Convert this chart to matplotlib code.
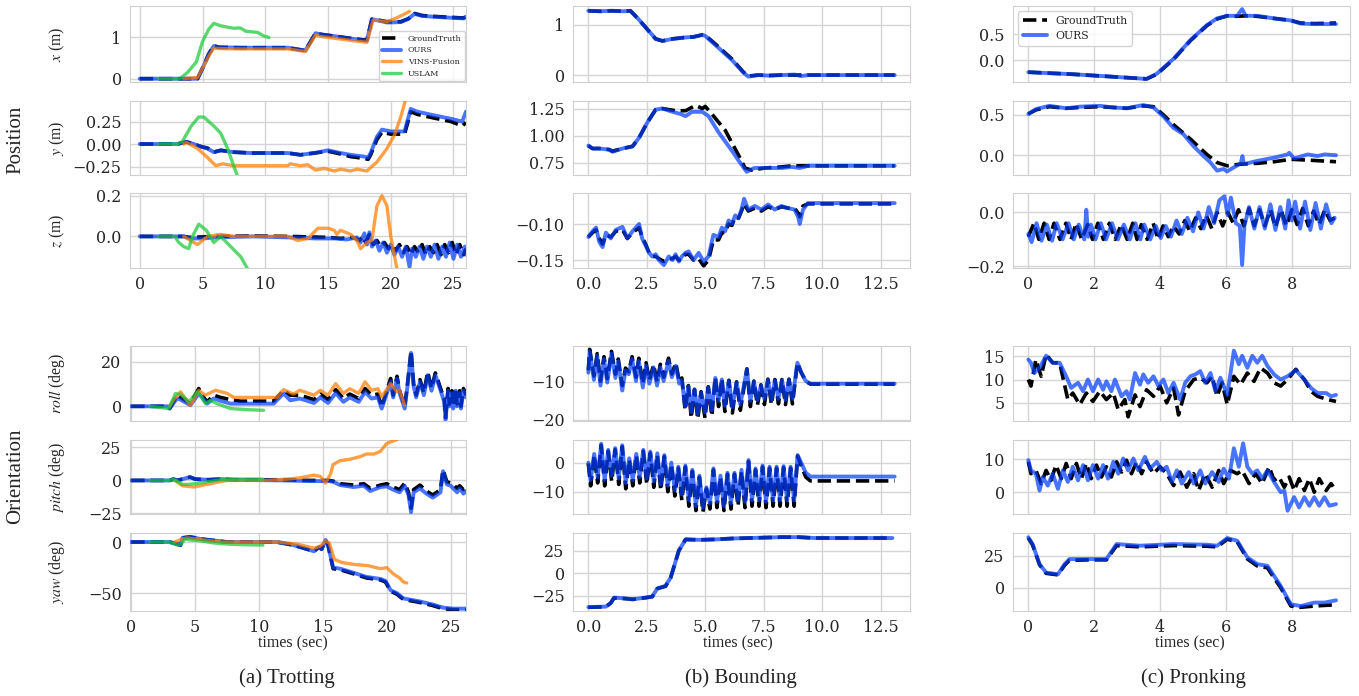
import matplotlib
matplotlib.use("Agg")
import matplotlib.pyplot as plt
import seaborn as sns

sns.set_style("whitegrid")
plt.rcParams["font.family"] = ["DejaVu Serif"]
plt.rcParams["mathtext.fontset"] = "stix"

W, H = 1359, 696

# ---------------- (a) Trotting ----------------
trot_x_gt = [(0, 0), (4.6, 0), (5.0, 0.25), (5.5, 0.6), (5.9, 0.8), (6.3, 0.76), (8, 0.75), (11.8, 0.75),
             (13.2, 0.68), (14.0, 1.1), (14.5, 1.07), (15.5, 1.03), (17.0, 0.97), (18.1, 0.93), (18.5, 1.44),
             (19.0, 1.42), (19.7, 1.38), (20.8, 1.38), (21.4, 1.45), (21.9, 1.58), (22.5, 1.53), (23.4, 1.51),
             (24.5, 1.49), (25.8, 1.47), (26.0, 1.5)]
trot_x_ours = [(0, 0), (4.6, 0), (5.0, 0.25), (5.5, 0.6), (5.9, 0.79), (6.3, 0.76), (8, 0.75), (11.8, 0.75),
               (13.2, 0.68), (14.0, 1.1), (14.5, 1.07), (15.5, 1.03), (17.0, 0.96), (18.1, 0.92), (18.5, 1.44),
               (19.0, 1.41), (19.7, 1.36), (20.8, 1.37), (21.4, 1.45), (21.9, 1.57), (22.5, 1.52), (23.4, 1.5),
               (24.5, 1.48), (25.8, 1.46), (26.0, 1.5)]
trot_x_vins = [(3.5, 0), (4.6, 0.03), (5.0, 0.25), (5.5, 0.55), (5.9, 0.74), (6.3, 0.73), (8, 0.72), (11.8, 0.72),
               (13.2, 0.66), (14.0, 1.05), (14.5, 1.02), (15.5, 0.98), (17.0, 0.92), (18.1, 0.88), (18.6, 1.42),
               (19.7, 1.38), (20.3, 1.45), (21.0, 1.55), (21.5, 1.63)]
trot_x_uslam = [(1.5, 0), (3.2, 0), (3.8, 0.15), (4.5, 0.4), (5.0, 0.9), (5.5, 1.2), (5.9, 1.34), (6.45, 1.28),
                (7.5, 1.22), (8.0, 1.23), (8.45, 1.15), (9.4, 1.12), (9.9, 1.03), (10.3, 1.0)]

trot_y_gt = [(0, 0), (3.0, 0), (3.7, 0.025), (4.3, 0.0), (4.9, -0.03), (5.4, -0.045), (5.9, -0.09), (6.45, -0.07),
             (7.5, -0.09), (8.85, -0.1), (11.8, -0.1), (12.8, -0.12), (13.9, -0.1), (15.0, -0.08), (16.0, -0.11),
             (16.8, -0.14), (17.9, -0.16), (18.2, -0.17), (18.4, -0.12), (18.9, 0.05), (19.3, 0.13), (20.0, 0.11),
             (21.1, 0.11), (21.6, 0.36), (22.1, 0.33), (23.4, 0.29), (24.8, 0.25), (25.7, 0.2), (26.0, 0.24)]
trot_y_ours = [(0, 0), (3.0, 0), (3.7, 0.025), (4.3, 0.0), (4.9, -0.03), (5.4, -0.05), (5.9, -0.09), (6.45, -0.07),
               (7.5, -0.09), (8.85, -0.1), (11.8, -0.1), (12.8, -0.12), (13.9, -0.1), (15.0, -0.07), (16.0, -0.1),
               (16.8, -0.12), (17.9, -0.14), (18.2, -0.15), (18.4, -0.1), (18.9, 0.08), (19.3, 0.16), (20.0, 0.14),
               (21.1, 0.14), (21.6, 0.39), (22.1, 0.36), (23.4, 0.32), (24.8, 0.28), (25.7, 0.25), (26.0, 0.36)]
trot_y_vins = [(3.5, 0.0), (3.7, 0.02), (4.6, -0.05), (5.4, -0.15), (6.05, -0.24), (6.6, -0.22), (7.5, -0.24),
               (11.8, -0.24), (12.0, -0.22), (12.8, -0.24), (13.4, -0.23), (14.0, -0.29), (14.7, -0.27),
               (15.5, -0.3), (16.0, -0.28), (16.8, -0.3), (17.3, -0.28), (18.1, -0.3), (18.9, -0.2),
               (19.7, -0.05), (20.3, 0.1), (20.8, 0.3), (21.2, 0.5)]
trot_y_uslam = [(1.5, 0), (3.0, 0), (3.4, 0.03), (4.1, 0.2), (4.7, 0.3), (5.1, 0.3), (5.9, 0.2), (6.45, 0.12),
                (7.0, -0.05), (7.5, -0.25), (7.8, -0.36)]

trot_z_gt = [(0, 0), (3.5, 0), (4.0, -0.005), (6.0, 0.0), (9.0, 0.002), (12.0, 0.0), (15.0, -0.005), (16.0, -0.01),
             (17.0, -0.005), (17.5, -0.02), (17.8, 0.0), (18.0, -0.03), (18.3, 0.01), (18.6, -0.04), (18.9, -0.02),
             (19.2, -0.05), (19.5, -0.03), (19.8, -0.06), (20.1, -0.04), (20.4, -0.07), (20.7, -0.04), (21.0, -0.08),
             (21.3, -0.05), (21.6, -0.09), (21.9, -0.05), (22.2, -0.08), (22.5, -0.04), (22.8, -0.09), (23.1, -0.05),
             (23.4, -0.08), (23.7, -0.04), (24.0, -0.09), (24.3, -0.04), (24.6, -0.08), (24.9, -0.03), (25.2, -0.09),
             (25.5, -0.04), (25.8, -0.09), (26.0, -0.06)]
trot_z_ours = [(0, 0), (3.5, 0), (4.0, -0.01), (5.0, -0.01), (6.0, -0.005), (9.0, 0.0), (12.0, -0.005), (14.0, -0.01),
               (15.5, -0.01), (16.5, -0.015), (17.3, -0.005), (17.6, -0.03), (17.9, 0.015), (18.1, -0.04),
               (18.3, 0.02), (18.5, -0.05), (18.8, -0.02), (19.1, -0.07), (19.4, -0.03), (19.7, -0.08), (20.0, -0.04),
               (20.3, -0.09), (20.6, -0.05), (20.9, -0.1), (21.2, -0.05), (21.5, -0.15), (21.7, -0.06), (22.0, -0.1),
               (22.3, -0.05), (22.6, -0.11), (22.9, -0.05), (23.2, -0.1), (23.5, -0.04), (23.8, -0.11), (24.1, -0.05),
               (24.4, -0.1), (24.7, -0.03), (25.0, -0.11), (25.3, -0.04), (25.6, -0.1), (25.9, -0.05), (26.0, -0.09)]
trot_z_vins = [(3.5, 0), (4.6, -0.04), (5.4, 0.0), (6.45, 0.01), (7.5, 0.0), (11.8, 0.0), (12.6, -0.02),
               (13.4, -0.01), (14.2, 0.04), (15.0, 0.04), (15.5, 0.03), (15.7, 0.01), (16.0, 0.03), (16.8, 0.01),
               (17.3, -0.02), (17.6, -0.06), (18.1, -0.03), (18.5, -0.02), (18.9, 0.15), (19.3, 0.2), (19.7, 0.15),
               (20.0, 0.0), (20.5, -0.16)]
trot_z_uslam = [(1.5, 0), (2.8, 0), (3.1, -0.03), (3.5, -0.05), (3.9, -0.06), (4.2, 0.0), (4.7, 0.06), (5.3, 0.03),
                (5.9, -0.03), (6.45, 0.0), (7.25, -0.05), (8.05, -0.1), (8.6, -0.16)]

trot_roll_gt = [(0, 0), (2.9, 0), (3.0, -1), (3.59, 5), (3.85, 4), (4.63, 1.2), (5.28, 8), (5.67, 4), (5.93, 2),
                (6.46, 5), (6.98, 4), (7.76, 3), (8.54, 2.3), (11.14, 2.3), (11.92, 7.2), (12.44, 5), (13.2, 5),
                (14.3, 3), (14.8, 5.5), (15.4, 3), (16.0, 7.5), (16.6, 3.5), (17.1, 5.5), (17.8, 3.5), (18.3, 8),
                (18.8, 5), (19.3, 5.5), (19.6, -0.3), (20.3, 12.5), (20.5, 5), (20.8, 13.5), (21.0, 7), (21.4, 0),
                (21.6, 9), (21.9, 25), (22.1, 10), (22.3, 5), (22.6, 12), (22.9, 6), (23.2, 15.5), (23.5, 8),
                (23.8, 15), (24.1, 10), (24.5, 3), (24.6, -5), (24.8, 8), (24.9, 1), (25.1, 7), (25.2, 0), (25.4, 8),
                (25.5, 1), (25.7, 7), (25.8, 0), (26.0, 8), (26.2, 5)]
trot_roll_ours = [(0, 0), (2.9, 0), (3.0, -1), (3.59, 3.6), (3.85, 3.0), (4.63, 0.5), (5.28, 5.8), (5.67, 3),
                  (5.93, 1.2), (6.46, 3.5), (6.98, 2.5), (7.76, 1.2), (8.54, 1.2), (11.14, 1.2), (11.92, 5.8),
                  (12.44, 2.7), (13.2, 3.5), (14.3, 1.5), (14.8, 4), (15.4, 1.5), (16.0, 6), (16.6, 2), (17.1, 4),
                  (17.8, 2), (18.3, 6.5), (18.8, 3.5), (19.3, 4), (19.6, -1), (20.3, 11), (20.5, 4), (20.8, 12.5),
                  (21.0, 6), (21.4, -1), (21.6, 8), (21.9, 24), (22.1, 9), (22.3, 4), (22.6, 11), (22.9, 5),
                  (23.2, 14), (23.5, 7), (23.8, 14), (24.1, 9), (24.5, 2), (24.6, -6), (24.8, 7), (24.9, 0),
                  (25.1, 6), (25.2, -1), (25.4, 7), (25.5, 0), (25.7, 6), (25.8, -1), (26.0, 7), (26.2, 4)]
trot_roll_vins = [(3.0, 0), (3.33, 3), (3.85, 6.5), (4.63, 0.5), (5.28, 7.2), (5.8, 5), (6.59, 7.2), (7.5, 5.8),
                  (8.02, 4), (11.4, 4), (11.92, 7.5), (12.7, 5.5), (13.2, 7.2), (14.3, 5), (14.8, 7.2), (15.4, 5),
                  (16.0, 10.2), (16.6, 5.8), (17.1, 7.9), (17.8, 5.8), (18.3, 11), (18.8, 7.2), (19.3, 7.9),
                  (19.6, 4.3), (20.3, 10.2), (20.8, 6.5), (21.0, 7.2), (21.4, 0.5)]
trot_roll_uslam = [(1.5, 0), (2.94, -1.0), (3.46, 5.7), (3.85, 5.4), (4.24, 3.5), (4.5, 1.9), (5.15, 6.5),
                   (5.41, 5.0), (5.8, 1.2), (6.2, 2.7), (6.72, 1.2), (7.76, -1.0), (9.0, -1.5), (10.36, -1.8)]

trot_pitch_gt = [(0, 0), (3.0, 0), (3.3, 1), (3.6, 0), (4.6, 2.5), (5.0, 1), (6.0, 0.5), (7.0, 1), (8.0, 0.5),
                 (12, 0.5), (14, 0), (15.5, 0), (15.8, -0.5), (16.35, -2.5), (17.4, -3.5), (18.2, -2.5), (18.7, -6),
                 (19.5, -3.5), (20.0, -2.5), (20.5, -5), (21.0, -7), (21.4, -2), (21.7, -9), (21.9, -21), (22.1, -7),
                 (22.6, -3.5), (23.1, -8), (23.6, -11), (24.2, -7), (24.4, 8), (24.7, -1), (25.0, -2), (25.2, -3),
                 (25.5, -6), (25.7, -4), (26.0, -7), (26.2, -5)]
trot_pitch_ours = [(0, 0), (3.0, 0), (3.3, 1), (3.6, 0), (4.6, 2.5), (5.0, 1), (6.0, 0.5), (7.0, 1), (8.0, 0.5),
                   (12, 0), (14, -0.5), (15.5, -0.5), (15.8, -1), (16.35, -3.5), (17.4, -5), (18.2, -4), (18.7, -8),
                   (19.5, -5), (20.0, -4.5), (20.5, -7), (21.0, -9), (21.4, -4), (21.7, -11), (21.9, -24),
                   (22.1, -9), (22.6, -6), (23.1, -10), (23.6, -13), (24.2, -9), (24.4, 7), (24.7, -3), (25.0, -4),
                   (25.2, -6), (25.5, -9), (25.7, -6), (26.0, -10), (26.2, -8)]
trot_pitch_vins = [(3.4, 0), (4.0, -4), (4.9, -5), (5.9, -3), (7.5, 0), (10.6, 0), (12.2, 1), (13.2, 2), (14.3, 4),
                   (14.8, 3), (15.2, -2), (15.6, 5), (15.8, 12), (16.35, 15), (17.1, 16), (17.9, 18), (18.4, 20),
                   (19.0, 20), (19.5, 22), (20.0, 28), (20.8, 31)]
trot_pitch_uslam = [(1.5, 0), (3.0, 0), (3.3, 1), (3.6, -0.5), (4.0, -3), (4.4, -3), (5.0, -2.5), (6.0, -1),
                    (7.0, 0.5), (8.0, 1), (9.0, 1), (10.3, 1)]

trot_yaw_gt = [(0, 0), (3.0, 0), (3.6, -2), (3.85, -3), (4.0, 4), (4.6, 5), (5.4, 3), (7.5, 0), (11.4, 0),
               (12.7, -3), (14.3, -9), (14.7, -5), (14.9, -7), (15.2, 2), (15.4, -3), (15.8, -26), (16.35, -27),
               (17.4, -31), (18.4, -35), (19.5, -37), (19.9, -39), (20.3, -48), (20.8, -51), (21.3, -56),
               (22.6, -59), (23.6, -62), (24.4, -65), (25.2, -66), (26.2, -66)]
trot_yaw_ours = [(0, 0), (3.0, 0), (3.6, -2), (3.85, -3), (4.0, 4), (4.6, 5), (5.4, 3), (7.5, 0), (11.4, 0),
                 (12.7, -3), (14.3, -9), (14.7, -5), (14.9, -7), (15.2, 2), (15.4, -3), (15.8, -25), (16.35, -26),
                 (17.4, -30), (18.4, -34), (19.5, -36), (19.9, -38), (20.3, -47), (20.8, -50), (21.3, -55),
                 (22.6, -58), (23.6, -61), (24.4, -64), (25.2, -65), (26.2, -65)]
trot_yaw_vins = [(3.4, 0), (4.0, 3), (4.4, 4), (5.0, 3), (7.0, 0), (11.4, 0), (13.0, -2), (14.3, -6), (14.8, -4),
                 (15.2, 1), (15.5, -1), (15.9, -17), (16.5, -20), (17.5, -22), (18.5, -23), (19.5, -26),
                 (20.0, -25), (20.5, -31), (21.0, -35), (21.3, -39), (21.56, -40)]
trot_yaw_uslam = [(1.5, 0), (3.0, 0), (3.6, -3), (3.9, -2), (4.2, 3), (4.6, 2), (5.5, 1), (6.5, -1), (7.5, -2),
                  (8.5, -2.5), (10.3, -3)]

# ---------------- (b) Bounding ----------------
bound_x_gt = [(0, 1.28), (0.5, 1.27), (1.0, 1.28), (1.5, 1.27), (1.8, 1.28), (2.17, 1.1), (2.45, 0.95), (2.88, 0.72),
              (3.17, 0.68), (3.6, 0.72), (4.16, 0.75), (4.5, 0.76), (4.87, 0.8), (5.0, 0.79), (5.43, 0.62),
              (6.14, 0.32), (6.63, 0.06), (6.84, -0.02), (7.27, 0.0), (7.7, -0.01), (8.27, 0.0), (8.83, 0.0),
              (9.4, 0.0), (13.1, 0.0)]
bound_x_ours = [(0, 1.28), (0.5, 1.27), (1.0, 1.28), (1.5, 1.27), (1.8, 1.28), (2.17, 1.1), (2.45, 0.95),
                (2.88, 0.72), (3.17, 0.68), (3.6, 0.72), (4.16, 0.75), (4.5, 0.76), (4.87, 0.8), (5.0, 0.78),
                (5.43, 0.6), (6.14, 0.3), (6.63, 0.05), (6.84, -0.03), (7.27, 0.0), (7.7, -0.01), (8.27, 0.0),
                (8.83, 0.01), (9.1, -0.02), (9.4, 0.0), (13.1, 0.0)]

bound_y_gt = [(0, 0.907), (0.18, 0.88), (0.47, 0.88), (0.9, 0.87), (1.03, 0.855), (1.46, 0.88), (1.89, 0.9),
              (2.17, 0.98), (2.52, 1.12), (2.88, 1.24), (3.17, 1.25), (3.73, 1.23), (4.16, 1.23), (4.59, 1.28),
              (4.87, 1.25), (5.0, 1.27), (5.28, 1.2), (5.85, 1.05), (6.42, 0.82), (6.7, 0.7), (6.98, 0.68),
              (7.55, 0.7), (8.27, 0.71), (8.7, 0.72), (13.1, 0.72)]
bound_y_ours = [(0, 0.907), (0.18, 0.88), (0.47, 0.88), (0.9, 0.87), (1.03, 0.85), (1.46, 0.88), (1.89, 0.9),
                (2.17, 0.98), (2.52, 1.12), (2.88, 1.24), (3.17, 1.25), (3.6, 1.22), (3.94, 1.2), (4.16, 1.18),
                (4.43, 1.22), (4.87, 1.22), (5.14, 1.18), (5.57, 1.03), (6.14, 0.86), (6.42, 0.77), (6.77, 0.665),
                (7.1, 0.7), (7.55, 0.7), (8.27, 0.7), (8.7, 0.71), (9.04, 0.7), (9.4, 0.72), (13.1, 0.72)]

bound_z_t = [0.0, 0.18, 0.33, 0.47, 0.61, 0.75, 0.96, 1.18, 1.46, 1.67,
             1.89, 2.17, 2.3, 2.45, 2.6, 2.73, 2.88, 3.02, 3.23, 3.44,
             3.6, 3.73, 3.87, 4.0, 4.15, 4.29, 4.5, 4.72, 4.93, 5.14,
             5.35, 5.57, 5.71, 5.85, 6.0, 6.14, 6.28, 6.42, 6.55, 6.66,
             6.84, 7.12, 7.4, 7.69, 7.97, 8.26, 8.54, 8.82, 8.97, 9.04,
             9.18, 9.39, 13.1]
bound_z_ours = [-0.118, -0.11, -0.105, -0.125, -0.132, -0.112, -0.12, -0.108, -0.104, -0.12,
                -0.11, -0.1, -0.12, -0.13, -0.14, -0.145, -0.142, -0.15, -0.157, -0.145,
                -0.15, -0.142, -0.152, -0.145, -0.14, -0.138, -0.15, -0.14, -0.152, -0.145,
                -0.115, -0.118, -0.105, -0.11, -0.095, -0.1, -0.088, -0.092, -0.08, -0.065,
                -0.08, -0.075, -0.08, -0.073, -0.08, -0.075, -0.078, -0.08, -0.09, -0.1,
                -0.08, -0.071, -0.071]
bound_z_gt = [-0.118, -0.112, -0.108, -0.12, -0.128, -0.115, -0.118, -0.11, -0.108, -0.12,
              -0.112, -0.105, -0.118, -0.128, -0.14, -0.145, -0.145, -0.148, -0.152, -0.148,
              -0.148, -0.145, -0.15, -0.15, -0.142, -0.142, -0.15, -0.148, -0.158, -0.15,
              -0.122, -0.122, -0.112, -0.112, -0.1, -0.102, -0.09, -0.092, -0.082, -0.072,
              -0.082, -0.078, -0.082, -0.076, -0.08, -0.076, -0.078, -0.078, -0.085, -0.09,
              -0.075, -0.072, -0.072]

bound_roll_t = [0.00, 0.06, 0.24, 0.38, 0.52, 0.67, 0.81, 0.99, 1.16, 1.28,
                1.45, 1.59, 1.73, 1.87, 2.04, 2.16, 2.33, 2.47, 2.61, 2.79,
                2.94, 3.08, 3.22, 3.43, 3.57, 3.74, 3.89, 4.00, 4.14, 4.28,
                4.40, 4.54, 4.68, 4.82, 4.99, 5.13, 5.28, 5.43, 5.57, 5.71,
                5.84, 6.01, 6.16, 6.34, 6.50, 6.78, 6.93, 7.08, 7.23, 7.38,
                7.53, 7.68, 7.83, 7.98, 8.13, 8.28, 8.43, 8.58, 8.73, 8.94,
                9.10, 9.30, 9.50, 13.10]
bound_roll_ours = [-7.6, -2.0, -9.5, -3.2, -11.0, -4.0, -10.2, -2.6, -9.0, -4.6,
                   -12.3, -7.0, -8.0, -4.0, -9.8, -4.5, -11.5, -5.8, -10.5, -6.2,
                   -11.0, -6.2, -9.8, -4.5, -8.8, -5.8, -10.5, -9.6, -16.5, -11.2,
                   -18.0, -12.0, -18.5, -12.8, -18.0, -11.5, -17.5, -9.0, -15.0, -9.4,
                   -16.3, -9.8, -16.7, -10.2, -16.0, -6.8, -15.0, -10.0, -14.8, -11.0,
                   -14.5, -9.5, -14.8, -9.6, -14.5, -9.6, -14.8, -9.5, -14.5, -5.0,
                   -7.5, -9.8, -10.5, -10.5]
bound_roll_gt = [-7.0, -1.5, -8.5, -2.6, -9.8, -3.4, -9.2, -2.0, -8.0, -4.0,
                 -11.0, -6.4, -7.4, -3.4, -8.8, -3.8, -10.5, -5.0, -9.6, -5.5,
                 -10.0, -5.4, -8.8, -3.8, -8.0, -5.0, -10.0, -9.0, -17.5, -11.0,
                 -19.5, -12.0, -19.8, -12.6, -19.5, -11.3, -19.0, -8.8, -16.5, -9.2,
                 -17.8, -9.6, -18.2, -10.0, -17.5, -6.6, -16.5, -9.8, -16.2, -10.8,
                 -16.0, -9.3, -16.0, -9.4, -15.8, -9.4, -16.0, -9.3, -15.8, -5.0,
                 -7.5, -9.9, -10.6, -10.6]

bound_pitch_t = [0.0, 0.1, 0.25, 0.4, 0.55, 0.7, 0.85, 1.0, 1.15, 1.3,
                 1.45, 1.6, 1.75, 1.9, 2.05, 2.2, 2.35, 2.5, 2.65, 2.8,
                 2.95, 3.1, 3.25, 3.4, 3.55, 3.7, 3.85, 4.0, 4.15, 4.3,
                 4.45, 4.6, 4.75, 4.9, 5.05, 5.2, 5.35, 5.5, 5.65, 5.8,
                 5.95, 6.1, 6.25, 6.4, 6.55, 6.7, 6.85, 7.0, 7.15, 7.3,
                 7.45, 7.6, 7.75, 7.9, 8.05, 8.2, 8.35, 8.5, 8.65, 8.8,
                 8.95, 9.1, 9.3, 9.5, 13.1]
bound_pitch_ours = [0.0, -6.0, 3.0, -5.0, 6.5, -6.0, 4.4, -4.5, 5.0, -5.5,
                    6.0, -7.0, 1.5, -6.0, 3.0, -5.0, 4.4, -5.5, 3.8, -6.5,
                    3.2, -7.5, 2.6, -8.0, 0.0, -9.5, -1.4, -11.0, -1.0, -13.0,
                    -2.5, -15.0, -4.5, -15.5, -8.5, -14.0, -2.0, -13.5, -4.5, -15.0,
                    -3.5, -14.0, -3.5, -13.0, -2.5, -13.5, 0.9, -13.0, -2.0, -13.0,
                    -1.0, -13.5, -1.4, -13.0, -1.4, -13.0, -1.2, -13.0, -1.4, -13.0,
                    2.6, 0.0, -3.5, -4.8, -4.8]
bound_pitch_gt = [-0.3, -8.0, 2.5, -7.0, 6.0, -8.0, 3.9, -6.5, 4.5, -7.5,
                  5.5, -9.0, 1.0, -8.0, 2.5, -7.0, 3.9, -7.5, 3.3, -8.5,
                  2.7, -9.5, 2.1, -10.0, -0.5, -11.5, -1.9, -13.0, -1.5, -15.0,
                  -3.0, -16.5, -5.0, -17.0, -9.0, -16.0, -2.5, -15.5, -5.0, -16.5,
                  -4.0, -16.0, -4.0, -15.0, -3.0, -15.5, 0.4, -15.0, -2.5, -15.0,
                  -1.5, -15.5, -1.9, -15.0, -1.9, -15.0, -1.7, -15.0, -1.9, -15.0,
                  2.3, -1.0, -5.0, -6.3, -6.3]

bound_yaw_gt = [(0, -37.8), (0.75, -37.2), (0.96, -33), (1.1, -27.5), (1.6, -28.2), (1.89, -29), (2.45, -27.2),
                (2.73, -26), (2.95, -17), (3.3, -14.5), (3.52, -5), (3.87, 25), (4.16, 37.4), (4.72, 37),
                (5.43, 37.5), (6.14, 38.5), (6.85, 39), (7.56, 39.5), (8.27, 40), (8.98, 40), (9.69, 39), (13.0, 39)]
bound_yaw_ours = [(0, -37.6), (0.75, -37), (0.96, -33), (1.1, -27), (1.6, -28), (1.89, -29), (2.45, -27),
                  (2.73, -26), (2.95, -17), (3.3, -14), (3.52, -5), (3.87, 25), (4.16, 37.6), (4.72, 37),
                  (5.43, 37.5), (6.14, 38.5), (6.85, 39), (7.56, 39.5), (8.27, 40), (8.98, 40), (9.69, 39),
                  (13.0, 39)]

# ---------------- (c) Pronking ----------------
pronk_x_gt = [(0, -0.23), (1.35, -0.27), (2.37, -0.31), (3.59, -0.36), (3.9, -0.27), (4.41, 0.02), (4.92, 0.38),
              (5.42, 0.67), (5.73, 0.8), (6.04, 0.86), (6.34, 0.85), (6.6, 0.86), (6.95, 0.85), (7.46, 0.81),
              (7.97, 0.77), (8.27, 0.72), (8.68, 0.71), (9.34, 0.72)]
pronk_x_ours = [(0, -0.23), (1.35, -0.27), (2.37, -0.31), (3.59, -0.36), (3.9, -0.26), (4.41, 0.03), (4.92, 0.39),
                (5.42, 0.68), (5.73, 0.81), (6.04, 0.86), (6.34, 0.86), (6.49, 0.99), (6.6, 0.86), (6.95, 0.86),
                (7.46, 0.81), (7.97, 0.77), (8.27, 0.71), (8.68, 0.7), (9.34, 0.7)]

pronk_y_gt = [(0, 0.51), (0.23, 0.56), (0.64, 0.6), (1.15, 0.58), (1.56, 0.59), (2.17, 0.6), (2.58, 0.59),
              (2.98, 0.58), (3.49, 0.61), (3.8, 0.6), (4.1, 0.5), (4.4, 0.38), (4.92, 0.2), (5.42, 0.01),
              (5.73, -0.09), (6.03, -0.13), (6.44, -0.11), (6.95, -0.1), (7.46, -0.08), (7.97, -0.05),
              (8.48, -0.06), (9.34, -0.08)]
pronk_y_ours = [(0, 0.51), (0.23, 0.57), (0.64, 0.61), (1.15, 0.58), (1.56, 0.6), (2.17, 0.61), (2.58, 0.59),
                (2.98, 0.58), (3.49, 0.62), (3.8, 0.59), (4.1, 0.48), (4.4, 0.34), (4.71, 0.26), (5.02, 0.11),
                (5.32, -0.01), (5.53, -0.09), (5.73, -0.19), (5.93, -0.17), (6.03, -0.2), (6.24, -0.15),
                (6.45, -0.1), (6.5, -0.01), (6.54, -0.11), (6.95, -0.07), (7.46, -0.03), (7.87, 0.01),
                (7.92, 0.03), (8.07, -0.04), (8.48, 0.01), (8.78, -0.01), (8.99, 0.01), (9.34, 0.0)]

pronk_z_gt = [(0.0, -0.09), (0.17, -0.04), (0.32, -0.1), (0.48, -0.04), (0.63, -0.1), (0.78, -0.04), (0.96, -0.1),
              (1.14, -0.04), (1.3, -0.1), (1.45, -0.04), (1.62, -0.1), (1.8, -0.045), (1.95, -0.1), (2.11, -0.04),
              (2.28, -0.1), (2.46, -0.04), (2.64, -0.1), (2.82, -0.045), (3.0, -0.1), (3.17, -0.04), (3.3, -0.1),
              (3.43, -0.045), (3.61, -0.1), (3.79, -0.04), (3.94, -0.1), (4.09, -0.05), (4.25, -0.09), (4.4, -0.05),
              (4.58, -0.08), (4.75, -0.03), (4.9, -0.07), (5.08, -0.02), (5.24, -0.06), (5.4, -0.01), (5.57, -0.06),
              (5.73, 0.0), (5.9, -0.05), (6.06, 0.0), (6.22, -0.04), (6.38, 0.01), (6.54, -0.05), (6.7, 0.015),
              (6.86, -0.05), (7.02, 0.01), (7.18, -0.05), (7.35, 0.01), (7.5, -0.055), (7.67, 0.01), (7.83, -0.05),
              (8.0, 0.01), (8.16, -0.045), (8.33, 0.015), (8.5, -0.05), (8.66, 0.005), (8.83, -0.045), (9.0, 0.01),
              (9.16, -0.03), (9.3, -0.02)]
pronk_z_ours = [(0.0, -0.08), (0.1, -0.11), (0.25, -0.04), (0.4, -0.105), (0.56, -0.045), (0.72, -0.105),
                (0.86, -0.04), (1.04, -0.1), (1.22, -0.04), (1.38, -0.1), (1.53, -0.045), (1.7, -0.1), (1.76, 0.01),
                (1.82, -0.09), (1.9, -0.045), (2.04, -0.1), (2.2, -0.04), (2.36, -0.1), (2.54, -0.04), (2.72, -0.1),
                (2.9, -0.045), (3.08, -0.1), (3.25, -0.04), (3.4, -0.1), (3.52, -0.045), (3.7, -0.1), (3.87, -0.05),
                (4.02, -0.095), (4.17, -0.05), (4.33, -0.09), (4.5, -0.03), (4.66, -0.08), (4.83, -0.02),
                (5.0, -0.07), (5.16, 0.0), (5.32, -0.06), (5.48, 0.02), (5.64, -0.04), (5.8, 0.045), (5.95, 0.06),
                (6.05, -0.01), (6.15, 0.055), (6.3, -0.04), (6.42, -0.05), (6.49, -0.195), (6.56, -0.05),
                (6.7, 0.02), (6.86, -0.06), (7.02, 0.02), (7.18, -0.06), (7.35, 0.03), (7.5, -0.065), (7.65, 0.02),
                (7.8, -0.06), (7.9, 0.045), (8.0, -0.03), (8.1, 0.04), (8.25, -0.06), (8.4, 0.04), (8.56, -0.065),
                (8.72, 0.035), (8.88, -0.06), (9.04, 0.03), (9.2, -0.04), (9.3, -0.02)]

pronk_roll_gt = [(0.0, 10.0), (0.08, 8.6), (0.23, 14.3), (0.39, 10.7), (0.54, 15.4), (0.74, 13.6), (0.95, 13.6),
                 (1.2, 5.7), (1.35, 7.1), (1.56, 4.6), (1.76, 7.1), (1.96, 5.3), (2.17, 7.5), (2.37, 5.7),
                 (2.58, 7.1), (2.73, 3.5), (2.93, 5.7), (3.03, 2.0), (3.24, 6.7), (3.39, 4.2), (3.59, 7.8),
                 (3.8, 6.4), (4.0, 8.6), (4.2, 5.0), (4.41, 8.2), (4.56, 2.4), (4.76, 7.5), (5.02, 10.0),
                 (5.22, 10.4), (5.42, 9.3), (5.58, 10.7), (5.73, 6.4), (5.88, 9.3), (6.04, 4.6), (6.24, 10.7),
                 (6.44, 8.9), (6.65, 11.4), (6.85, 9.6), (7.05, 12.5), (7.26, 11.4), (7.46, 9.3), (7.66, 8.6),
                 (7.87, 10.0), (8.12, 12.2), (8.38, 10.0), (8.58, 7.5), (8.78, 6.4), (9.09, 5.7), (9.34, 5.3)]
pronk_roll_ours = [(0.0, 14.3), (0.08, 13.6), (0.18, 11.4), (0.34, 12.5), (0.54, 15.1), (0.74, 13.6), (0.95, 13.6),
                   (1.15, 10.7), (1.3, 8.2), (1.51, 9.3), (1.66, 7.5), (1.81, 10.0), (1.96, 7.5), (2.12, 10.0),
                   (2.27, 7.8), (2.37, 9.6), (2.52, 7.5), (2.63, 10.0), (2.83, 6.4), (2.98, 7.5), (3.08, 5.7),
                   (3.24, 11.4), (3.39, 8.9), (3.49, 11.1), (3.64, 9.3), (3.8, 10.7), (3.95, 8.6), (4.1, 10.0),
                   (4.25, 7.1), (4.41, 9.3), (4.61, 5.7), (4.76, 9.3), (4.92, 10.7), (5.07, 11.1), (5.22, 11.8),
                   (5.37, 9.3), (5.53, 11.4), (5.68, 7.5), (5.83, 10.4), (6.04, 6.7), (6.24, 16.2), (6.39, 13.3),
                   (6.49, 15.1), (6.65, 12.5), (6.8, 15.1), (6.95, 13.6), (7.1, 15.1), (7.26, 12.9), (7.46, 11.1),
                   (7.66, 10.0), (7.87, 10.7), (8.12, 12.0), (8.38, 10.0), (8.58, 8.2), (8.78, 7.1), (9.04, 7.1),
                   (9.19, 6.4), (9.34, 6.7)]

pronk_pitch_gt = [(0.0, 9.2), (0.08, 5.6), (0.23, 6.6), (0.39, 2.6), (0.54, 6.6), (0.69, 3.6), (0.84, 8.2),
                  (1.0, 4.1), (1.15, 8.7), (1.3, 4.1), (1.46, 8.7), (1.61, 4.1), (1.76, 8.7), (1.91, 4.1),
                  (2.07, 8.2), (2.22, 4.6), (2.37, 7.7), (2.52, 4.6), (2.68, 9.2), (2.83, 6.1), (2.98, 9.7),
                  (3.13, 5.6), (3.29, 9.2), (3.44, 5.6), (3.59, 9.2), (3.8, 5.6), (4.0, 7.7), (4.2, 5.6), (4.41, 2.0),
                  (4.61, 6.1), (4.81, 1.5), (5.02, 5.6), (5.17, 0.5), (5.37, 5.6), (5.58, 1.5), (5.78, 6.6),
                  (5.93, 2.6), (6.14, 6.6), (6.34, 5.6), (6.49, 6.6), (6.7, 2.6), (6.9, 5.6), (7.1, 2.6), (7.31, 7.7),
                  (7.46, 3.6), (7.61, 4.6), (7.77, 1.5), (7.92, 4.6), (8.07, 0.5), (8.22, 4.1), (8.38, 0.5),
                  (8.53, 4.1), (8.68, 0.0), (8.83, 4.1), (9.04, 0.5), (9.19, 2.6), (9.34, 0.5)]
pronk_pitch_ours = [(0.0, 9.7), (0.08, 6.6), (0.23, 5.6), (0.34, 0.5), (0.44, 4.6), (0.59, 2.0), (0.74, 5.6),
                    (0.9, 1.0), (1.05, 6.6), (1.2, 3.1), (1.35, 7.7), (1.51, 3.6), (1.66, 8.2), (1.81, 3.6),
                    (1.96, 8.2), (2.12, 4.1), (2.27, 8.2), (2.42, 4.1), (2.58, 9.2), (2.73, 5.6), (2.88, 10.2),
                    (3.03, 6.6), (3.19, 10.2), (3.34, 6.6), (3.54, 10.7), (3.69, 7.1), (3.9, 9.2), (4.05, 6.6),
                    (4.2, 7.7), (4.36, 3.1), (4.51, 6.6), (4.66, 2.6), (4.87, 6.1), (5.02, 2.6), (5.22, 6.6),
                    (5.37, 2.6), (5.58, 6.1), (5.78, 3.1), (5.93, 7.1), (6.09, 4.1), (6.24, 13.3), (6.39, 7.7),
                    (6.52, 14.8), (6.65, 7.7), (6.8, 5.6), (6.95, 6.6), (7.1, 4.1), (7.26, 6.6), (7.46, 3.1),
                    (7.66, 0.0), (7.77, 0.5), (7.87, -5.6), (8.07, -1.5), (8.22, -4.6), (8.38, -1.5), (8.53, -4.1),
                    (8.68, -1.5), (8.83, -4.1), (8.99, -1.5), (9.14, -4.1), (9.34, -3.6)]

pronk_yaw_gt = [(0.0, 39.0), (0.13, 33.5), (0.34, 18.0), (0.54, 11.2), (0.9, 10.0), (1.1, 17.5), (1.25, 21.5),
                (1.86, 21.8), (2.37, 21.8), (2.68, 33.0), (3.39, 32.0), (4.41, 33.0), (5.42, 32.5), (5.73, 32.0),
                (6.04, 38.0), (6.34, 36.0), (6.65, 22.5), (6.95, 17.0), (7.26, 15.5), (7.46, 7.5), (7.66, 0.0),
                (7.97, -14.5), (8.27, -15.5), (8.68, -14.5), (8.99, -14.0), (9.34, -13.5)]
pronk_yaw_ours = [(0.0, 39.5), (0.13, 34.2), (0.34, 18.4), (0.54, 11.8), (0.9, 10.5), (1.1, 18.4), (1.25, 22.4),
                  (1.86, 22.4), (2.37, 22.4), (2.68, 34.2), (3.39, 32.9), (4.41, 34.2), (5.42, 33.7), (5.73, 32.9),
                  (6.04, 38.9), (6.34, 36.8), (6.65, 23.7), (6.95, 18.4), (7.26, 17.1), (7.46, 9.2), (7.66, 1.3),
                  (7.97, -13.2), (8.27, -14.5), (8.68, -11.8), (8.99, -11.8), (9.34, -10.0)]

# ---------------- layout (pixels) ----------------
rows_px = [(6, 82), (101, 175), (193, 268), (346, 421), (440, 514), (533, 611)]
cols_px = [(130, 466), (573, 910), (1013, 1350)]

GT = dict(color="black", ls="--", lw=2.6, zorder=2)
OURS = dict(color="#023eff", lw=2.8, alpha=0.72, zorder=3)
VINS = dict(color="#ff7c00", lw=2.4, alpha=0.72, zorder=4)
USLAM = dict(color="#1ac938", lw=2.4, alpha=0.72, zorder=5)

fig = plt.figure(figsize=(W / 100, H / 100), dpi=100)


def px_axes(col, row):
    l, r = cols_px[col]
    t, b = rows_px[row]
    return fig.add_axes([l / W, 1 - b / H, (r - l) / W, (b - t) / H])


def draw(ax, pairs, style, label=None):
    if isinstance(pairs, tuple):
        t, v = pairs
    else:
        t, v = zip(*pairs)
    ax.plot(t, v, label=label, **style)


panels = [
    # column 0 : trotting
    [[(trot_x_gt, GT), (trot_x_ours, OURS), (trot_x_vins, VINS), (trot_x_uslam, USLAM)],
     [(trot_y_gt, GT), (trot_y_ours, OURS), (trot_y_vins, VINS), (trot_y_uslam, USLAM)],
     [(trot_z_gt, GT), (trot_z_ours, OURS), (trot_z_vins, VINS), (trot_z_uslam, USLAM)],
     [(trot_roll_gt, GT), (trot_roll_ours, OURS), (trot_roll_vins, VINS), (trot_roll_uslam, USLAM)],
     [(trot_pitch_gt, GT), (trot_pitch_ours, OURS), (trot_pitch_vins, VINS), (trot_pitch_uslam, USLAM)],
     [(trot_yaw_gt, GT), (trot_yaw_ours, OURS), (trot_yaw_vins, VINS), (trot_yaw_uslam, USLAM)]],
    # column 1 : bounding
    [[(bound_x_gt, GT), (bound_x_ours, OURS)],
     [(bound_y_gt, GT), (bound_y_ours, OURS)],
     [((bound_z_t, bound_z_gt), GT), ((bound_z_t, bound_z_ours), OURS)],
     [((bound_roll_t, bound_roll_gt), GT), ((bound_roll_t, bound_roll_ours), OURS)],
     [((bound_pitch_t, bound_pitch_gt), GT), ((bound_pitch_t, bound_pitch_ours), OURS)],
     [(bound_yaw_gt, GT), (bound_yaw_ours, OURS)]],
    # column 2 : pronking
    [[(pronk_x_gt, GT), (pronk_x_ours, OURS)],
     [(pronk_y_gt, GT), (pronk_y_ours, OURS)],
     [(pronk_z_gt, GT), (pronk_z_ours, OURS)],
     [(pronk_roll_gt, GT), (pronk_roll_ours, OURS)],
     [(pronk_pitch_gt, GT), (pronk_pitch_ours, OURS)],
     [(pronk_yaw_gt, GT), (pronk_yaw_ours, OURS)]],
]
labels = ["GroundTruth", "OURS", "VINS-Fusion", "USLAM"]

ylims = [
    [(-0.08, 1.76), (-0.344, 0.478), (-0.155, 0.213), (-6.6, 27.1), (-25.4, 30.6), (-67.3, 8.8)],
    [(-0.138, 1.375), (0.635, 1.32), (-0.161, -0.057), (-20.3, -0.6), (-17.7, 7.8), (-41.9, 44.6)],
    [(-0.42, 1.05), (-0.244, 0.67), (-0.206, 0.072), (1.1, 17.2), (-6.6, 15.8), (-18.4, 42.9)],
]
yticks = [
    [[0, 1], [-0.25, 0, 0.25], [0.0, 0.2], [0, 20], [-25, 0, 25], [-50, 0]],
    [[0, 1], [0.75, 1.0, 1.25], [-0.15, -0.10], [-20, -10], [-10, 0], [-25, 0, 25]],
    [[0.0, 0.5], [0.0, 0.5], [-0.2, 0.0], [5, 10, 15], [0, 10], [0, 25]],
]
yfmt = [
    ["%g", "%.2f", "%.1f", "%g", "%g", "%g"],
    ["%g", "%.2f", "%.2f", "%g", "%g", "%g"],
    ["%.1f", "%.1f", "%.1f", "%g", "%g", "%g"],
]
xlims = [[(-0.78, 26.0), (-0.1, 26.2)], [(-0.655, 13.755), (-0.655, 13.755)], [(-0.465, 9.765), (-0.465, 9.765)]]
xticks = [[0, 5, 10, 15, 20, 25], [0.0, 2.5, 5.0, 7.5, 10.0, 12.5], [0, 2, 4, 6, 8]]
xfmt = ["%g", "%.1f", "%g"]
ylabels = ["$x$ (m)", "$y$ (m)", "$z$ (m)", "$roll$ (deg)", "$pitch$ (deg)", "$yaw$ (deg)"]

for c in range(3):
    for r in range(6):
        ax = px_axes(c, r)
        for k, (series, style) in enumerate(panels[c][r]):
            draw(ax, series, style, label=labels[k])
        ax.set_xlim(*xlims[c][0 if r < 3 else 1])
        ax.set_ylim(*ylims[c][r])
        ax.set_xticks(xticks[c])
        ax.set_yticks(yticks[c][r])
        ax.set_yticklabels([(yfmt[c][r] % v).replace("-", "\u2212") for v in yticks[c][r]])
        if r in (2, 5):
            ax.set_xticklabels([(xfmt[c] % v) for v in xticks[c]])
        else:
            ax.set_xticklabels([])
        ax.tick_params(labelsize=11.5, pad=6, length=0, colors="#262626")
        for s in ax.spines.values():
            s.set_color("#d0d0d0")
        ax.grid(color="#d5d5d5", lw=1.0)
        if c == 0 and r == 0:
            ax.legend(loc="lower right", fontsize=5.8, borderaxespad=0.15, framealpha=0.85,
                      handlelength=2.4, labelspacing=0.45)
        if c == 2 and r == 0:
            ax.legend(loc="upper left", fontsize=7.8, borderaxespad=0.5, framealpha=0.85,
                      handlelength=2.2)
        if c == 0:
            t, b = rows_px[r]
            fig.text(57 / W, 1 - (t + b) / 2 / H, ylabels[r], rotation=90, ha="center", va="center",
                     fontsize=11.3, family="Liberation Serif")

# group labels, x labels and captions
fig.text(16 / W, 1 - 140 / H, "Position", rotation=90, ha="center", va="center", fontsize=15,
         family="Liberation Serif")
fig.text(16 / W, 1 - 476 / H, "Orientation", rotation=90, ha="center", va="center", fontsize=15,
         family="Liberation Serif")
for cx, cap in zip([293, 738, 1190], ["(a) Trotting", "(b) Bounding", "(c) Pronking"]):
    fig.text(cx / W, 1 - 643 / H, "times (sec)", ha="center", va="center", fontsize=11.5,
             family="Liberation Serif", color="#262626")
for cx, cap in zip([287, 741, 1193], ["(a) Trotting", "(b) Bounding", "(c) Pronking"]):
    fig.text(cx / W, 1 - 678 / H, cap, ha="center", va="center", fontsize=15, family="Liberation Serif")

fig.savefig("out.png", dpi=100)
